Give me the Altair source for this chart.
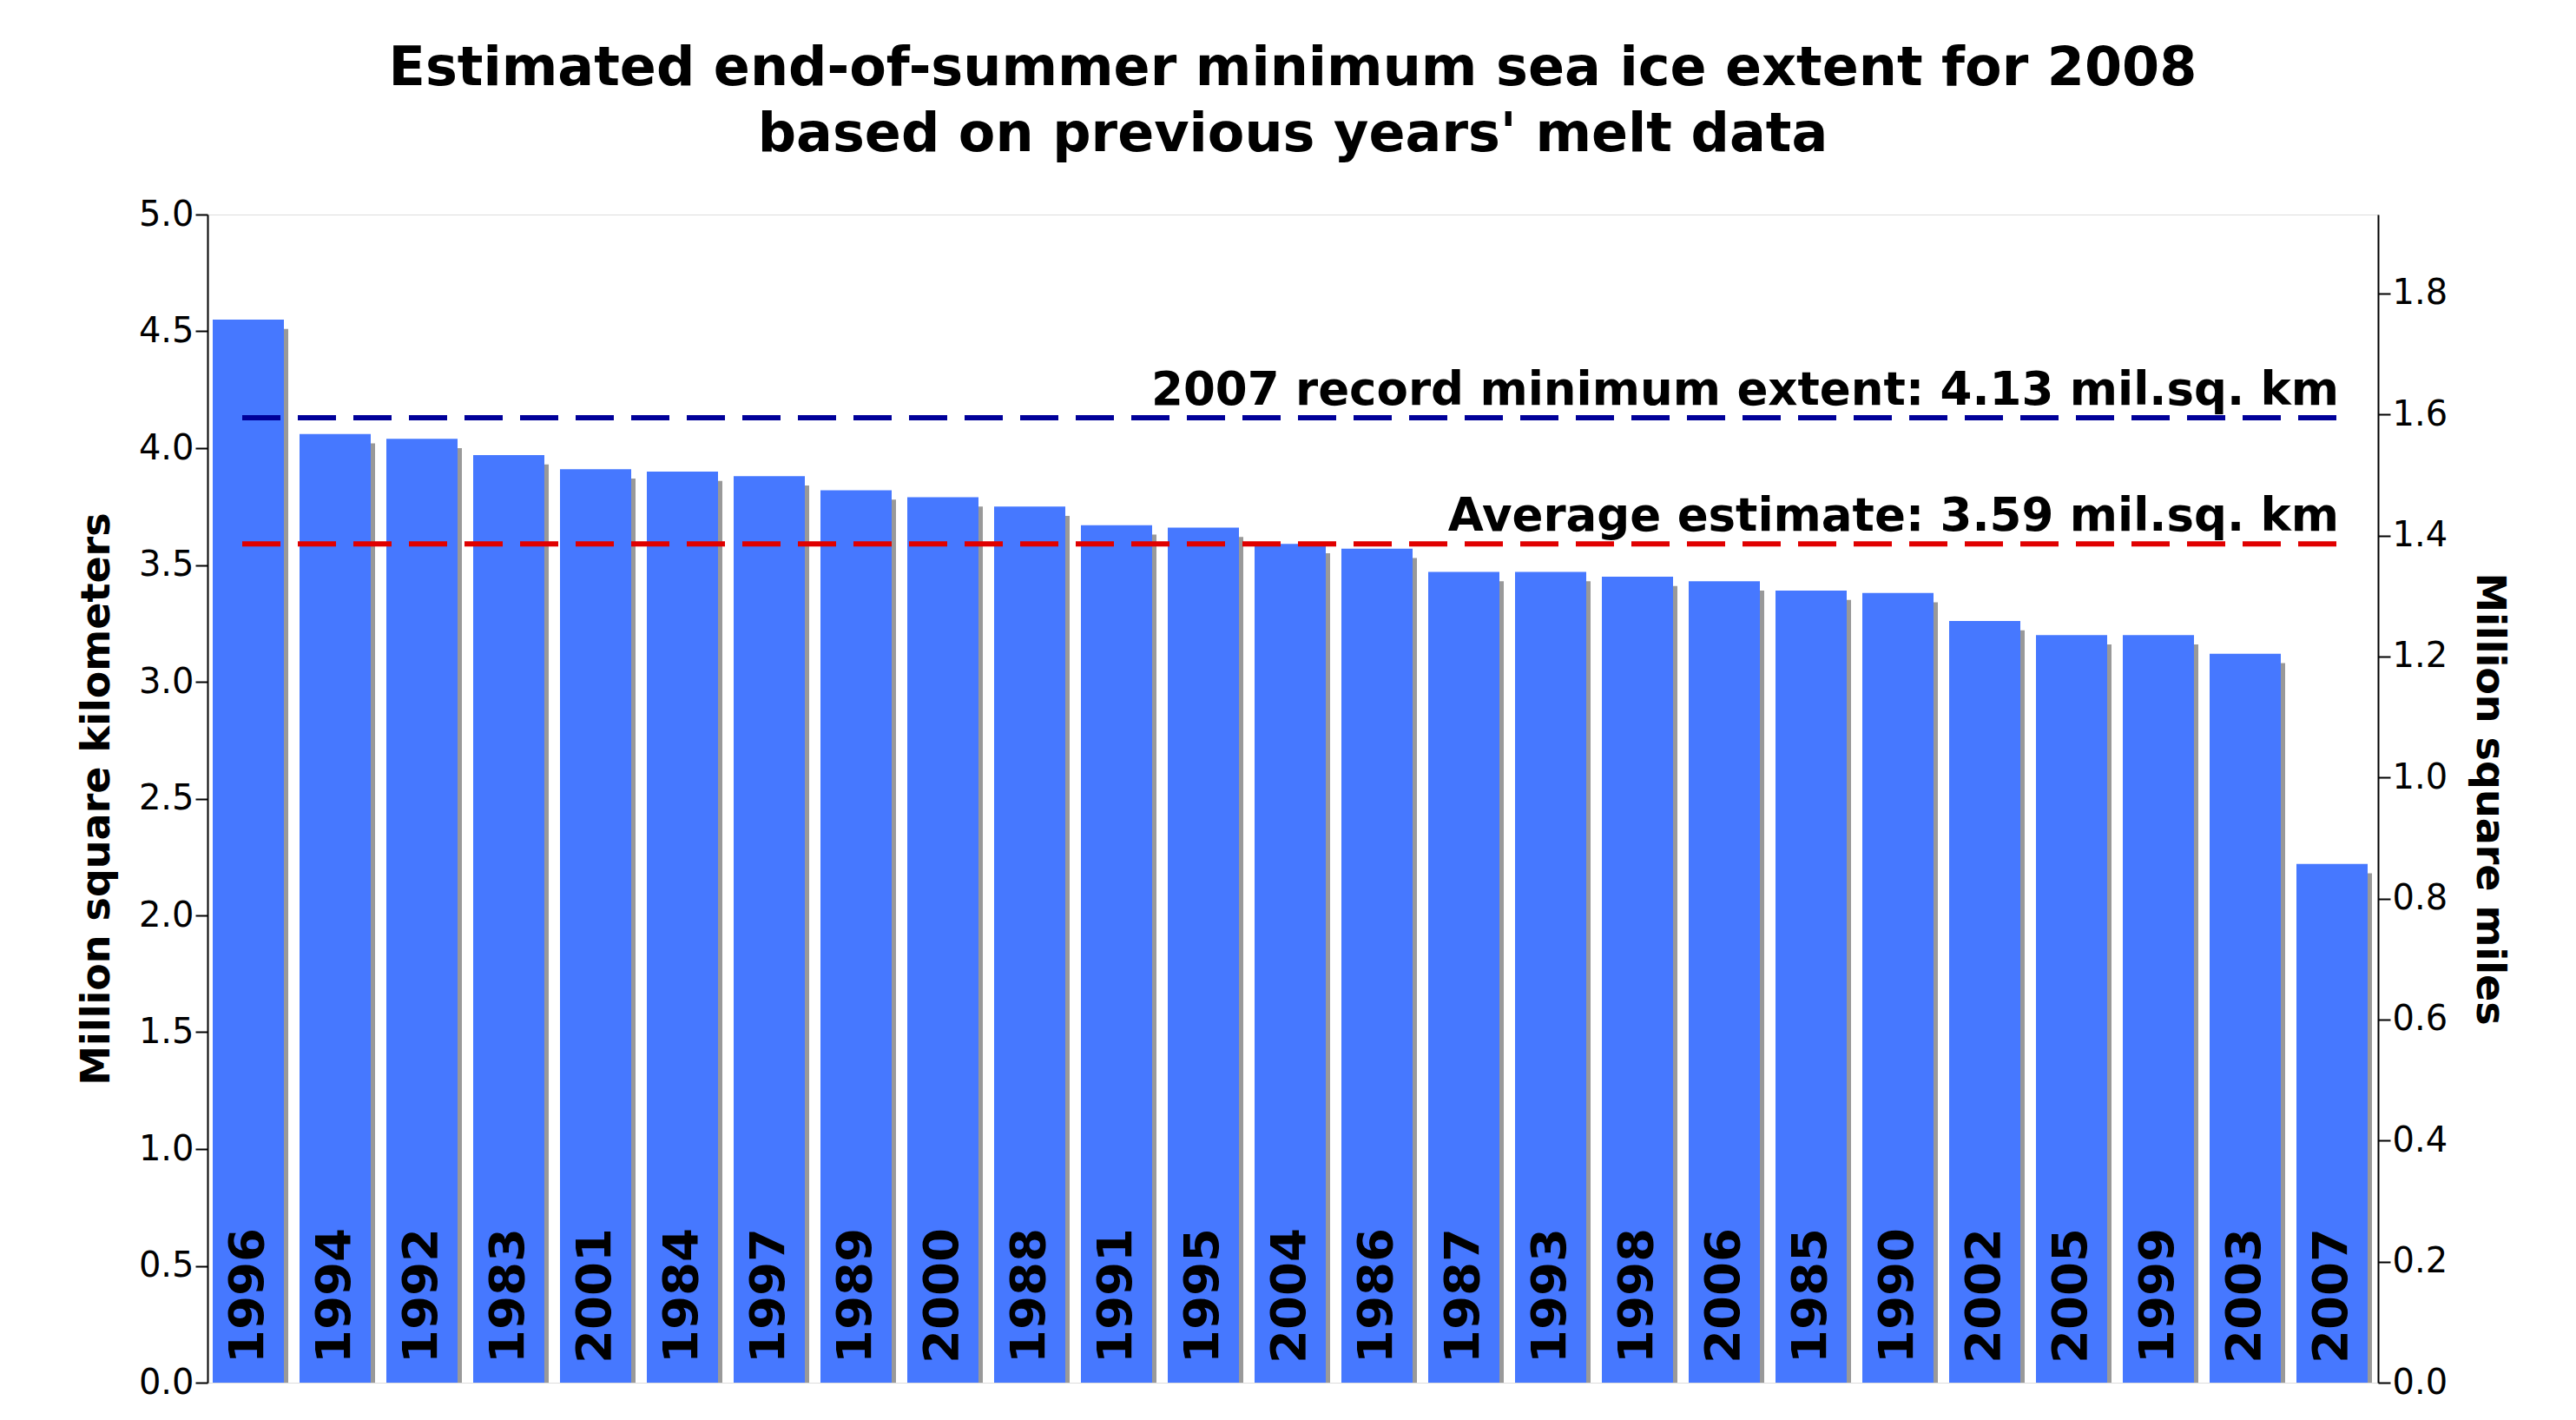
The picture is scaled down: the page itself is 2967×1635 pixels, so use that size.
import altair as alt
import pandas as pd

years = ["1996", "1994", "1992", "1983", "2001", "1984", "1997", "1989", "2000", "1988",
         "1991", "1995", "2004", "1986", "1987", "1993", "1998", "2006", "1985", "1990",
         "2002", "2005", "1999", "2003", "2007"]
extent = [4.55, 4.06, 4.04, 3.97, 3.91, 3.90, 3.88, 3.82, 3.79, 3.75,
          3.67, 3.66, 3.59, 3.57, 3.47, 3.47, 3.45, 3.43, 3.39, 3.38,
          3.26, 3.20, 3.20, 3.12, 2.22]
record_min = 4.13
avg_est = 3.59

FONT = "DejaVu Sans"
W, H = 2500, 1345

df = pd.DataFrame({"year": years, "extent": extent})
df["i"] = range(len(df))
df["x0"] = df["i"] + 0.06
df["x1"] = df["i"] + 0.88
df["sx0"] = df["i"] + 0.14
df["sx1"] = df["i"] + 0.93
df["sy"] = df["extent"] - 0.04
df["xc"] = df["i"] + 0.47

xs = alt.Scale(domain=[0, 25], nice=False, zero=False)
ys = alt.Scale(domain=[0, 5], nice=False)

base = alt.Chart(df)
shadow = base.mark_bar(color="#999999").encode(
    x=alt.X("sx0:Q", scale=xs, axis=None), x2="sx1",
    y=alt.Y("sy:Q", scale=ys,
            axis=alt.Axis(title="Million square kilometers", values=[i * 0.5 for i in range(11)],
                          format=".1f", grid=False, domainColor="black", tickColor="black",
                          labelFontSize=40, titleFontSize=46, titleFontWeight="bold",
                          labelFont=FONT, titleFont=FONT, tickSize=14, labelColor="black",
                          titlePadding=24, domainWidth=2, tickWidth=2)),
    y2=alt.value(H))
bars = base.mark_bar(color="#4678FF").encode(
    x=alt.X("x0:Q", scale=xs), x2="x1", y=alt.Y("extent:Q", scale=ys), y2=alt.datum(0))
labels = base.mark_text(angle=270, align="left", baseline="middle", fontSize=56,
                        fontWeight="bold", font=FONT, dx=22).encode(
    x=alt.X("xc:Q", scale=xs), y=alt.datum(0, scale=ys), text="year:N")

lines = pd.DataFrame({"v": [record_min, avg_est], "c": ["#000099", "#E00000"],
                      "t": [f"2007 record minimum extent: {record_min} mil.sq. km",
                            f"Average estimate: {avg_est} mil.sq. km"]})
lc = alt.Chart(lines)
rules = lc.mark_rule(strokeDash=[44, 20], strokeWidth=6).encode(
    x=alt.datum(0.4, scale=xs), x2=alt.datum(24.55),
    y=alt.Y("v:Q", scale=ys), color=alt.Color("c:N", scale=None))
rtext = lc.mark_text(align="right", baseline="bottom", fontSize=53, fontWeight="bold",
                     font=FONT, dy=-4).encode(
    x=alt.datum(24.55, scale=xs), y=alt.Y("v:Q", scale=ys), text="t:N")

left = alt.layer(shadow, bars, labels, rules, rtext)

right = alt.Chart(pd.DataFrame({"m": [0]})).mark_rule(opacity=0).encode(
    y=alt.Y("m:Q", scale=alt.Scale(domain=[0, 5 / 2.58999], nice=False),
            axis=alt.Axis(orient="right", title="Million square miles",
                          values=[i * 0.2 for i in range(10)], format=".1f", grid=False,
                          domainColor="black", tickColor="black", labelColor="black",
                          labelFontSize=40, titleFontSize=46, titleFontWeight="bold",
                          labelFont=FONT, titleFont=FONT, tickSize=14, titleAngle=90,
                          titlePadding=24, domainWidth=2, tickWidth=2)))

chart = alt.layer(left, right).resolve_scale(y="independent").properties(
    width=W, height=H,
    padding={"left": 80, "top": 40, "right": 20, "bottom": 10},
    title=alt.TitleParams(["Estimated end-of-summer minimum sea ice extent for 2008",
                           "based on previous years' melt data"],
                          font=FONT, fontSize=62, fontWeight="bold", anchor="middle",
                          color="black", offset=40, lineHeight=76)
).configure_view(stroke=None).configure(background="white")

chart.save("out.html", embed_options={"renderer": "svg", "actions": False})
